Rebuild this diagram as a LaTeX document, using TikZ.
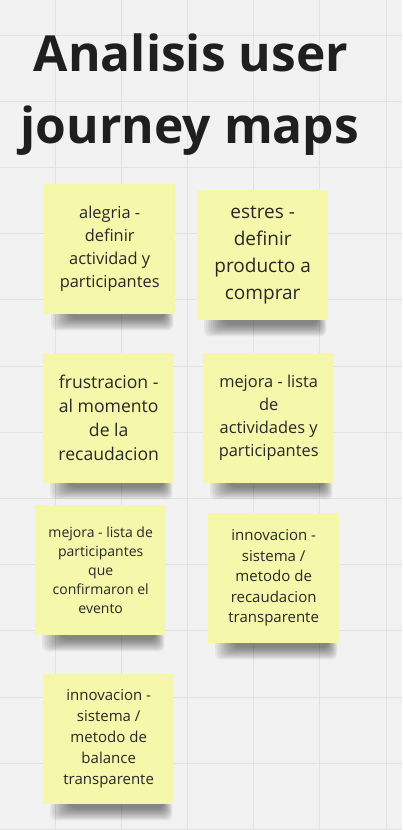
\documentclass[tikz,border=0pt]{standalone}
\usepackage{fontspec}
\setmainfont{Open Sans}
\usetikzlibrary{backgrounds,calc}
\definecolor{fondo}{RGB}{242,242,242}
\definecolor{rejilla}{RGB}{226,226,226}
\definecolor{nota}{RGB}{245,248,170}
\definecolor{tinta}{RGB}{40,40,40}
\newcommand{\tam}[2]{\fontsize{#1}{#2}\selectfont}
\begin{document}
\begin{tikzpicture}[x=1pt,y=-1pt,
  nota/.style={fill=nota, text=tinta, anchor=north west, minimum width=131pt,
    minimum height=130pt, inner sep=0pt, align=center},
  titulo/.style={anchor=base, text=black!88, font=\bfseries\tam{49.7}{60}}]
  \useasboundingbox (0,0) rectangle (402,830);
  % fondo
  \begin{scope}[on background layer]
    \fill[fondo] (0,0) rectangle (402,830);
    \foreach \i in {0,...,5}
      \draw[rejilla,line width=1pt] (55+66.2*\i,0) -- (55+66.2*\i,830);
    \foreach \j in {0,...,12}
      \draw[rejilla,line width=1pt] (0,35+66.2*\j) -- (402,35+66.2*\j);
  \end{scope}
  \node[titulo] (titulo1) at (191,71) {Analisis user};
  \node[titulo] (titulo2) at (190,143) {journey maps};
  % notas
  \node[nota, font=\tam{16.4}{23}] (alegria) at (44,184)
    {alegria -\\definir\\actividad y\\participantes};
  \node[nota, font=\tam{19}{27}] (estres) at (197,190)
    {estres -\\definir\\producto a\\comprar};
  \node[nota, font=\tam{17.6}{24}] (frustracion) at (43,353)
    {frustracion -\\al momento\\de la\\recaudacion};
  \node[nota, font=\tam{16.4}{23}] (mejoraact) at (203,353)
    {mejora - lista\\de\\actividades y\\participantes};
  \node[nota, font=\tam{14}{19}] (mejorapart) at (35,505)
    {mejora - lista de\\participantes\\que\\confirmaron el\\evento};
  \node[nota, font=\tam{15}{20.5}] (innovrecaud) at (208,513)
    {innovacion -\\sistema /\\metodo de\\recaudacion\\transparente};
  \node[nota, font=\tam{15}{21}] (innovbalance) at (43,674)
    {innovacion -\\sistema /\\metodo de\\balance\\transparente};
  % sombras
  \begin{scope}[on background layer]
    \foreach \n in {alegria,estres,frustracion,mejoraact,mejorapart,innovrecaud,innovbalance}
      \foreach \k in {0,...,9}
        \fill[black, opacity=0.055, rounded corners=6pt]
          ($(\n.south west)+(7+2.2*\k,-4)$) rectangle ($(\n.south east)+(-2-1.0*\k,16-1.3*\k)$);
  \end{scope}
\end{tikzpicture}
\end{document}
